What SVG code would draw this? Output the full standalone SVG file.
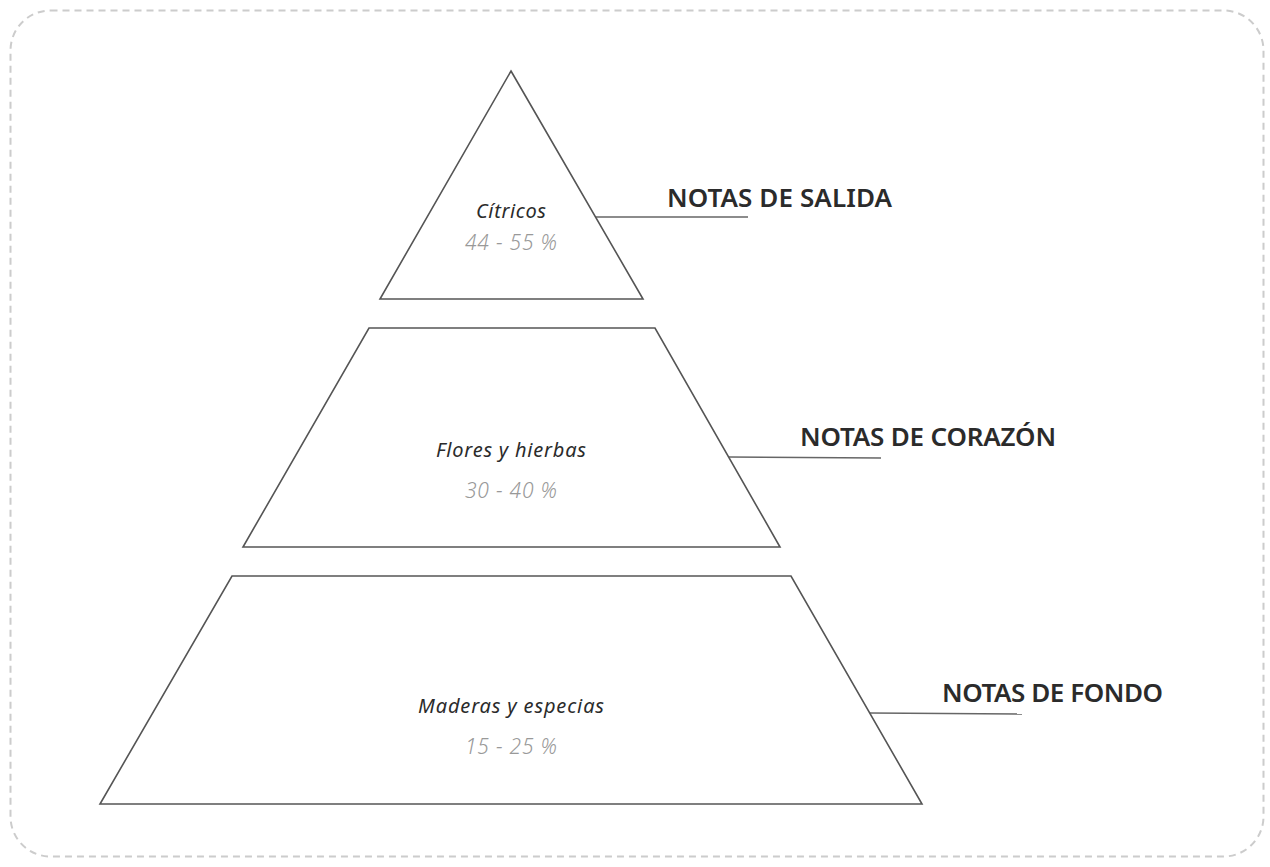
<svg xmlns="http://www.w3.org/2000/svg" width="1270" height="867" viewBox="0 0 1270 867">
<style>
.shape{fill:#fff;stroke:#555;stroke-width:1.6;stroke-linejoin:miter}
.conn{stroke:#666;stroke-width:1.6;fill:none}
.name{font-family:"Noto Sans","Open Sans",sans-serif;font-style:italic;font-size:20px;fill:#2b2b2b;text-anchor:middle}
.pct{font-family:"Noto Sans","Open Sans",sans-serif;font-style:italic;font-size:21px;fill:#999;text-anchor:middle;font-weight:300}
.title{font-family:"Noto Sans","Open Sans",sans-serif;font-weight:600;font-size:26px;fill:#2b2b2b}
</style>
<rect x="0" y="0" width="1270" height="867" fill="#fff"/>
<rect x="10.5" y="10.5" width="1253" height="846" rx="40" ry="40" fill="none" stroke="#cccccc" stroke-width="2" stroke-dasharray="7 5"/>
<g id="connectors">
<line class="conn" x1="596" y1="217" x2="748" y2="217"/>
<line class="conn" x1="729" y1="457" x2="881" y2="458"/>
<line class="conn" x1="870" y1="713" x2="1022" y2="714"/>
</g>
<g id="top">
<polygon class="shape" points="511,71 643,299 380,299"/>
<text class="name" x="511" y="218" textLength="70">Cítricos</text>
<text class="pct" x="511" y="250" textLength="92">44 - 55 %</text>
</g>
<g id="middle">
<polygon class="shape" points="369,328 655,328 780,547 243,547"/>
<text class="name" x="511" y="457" textLength="150">Flores y hierbas</text>
<text class="pct" x="511" y="498" textLength="92">30 - 40 %</text>
</g>
<g id="bottom">
<polygon class="shape" points="232,576 791,576 922,804 100,804"/>
<text class="name" x="511" y="713" textLength="186">Maderas y especias</text>
<text class="pct" x="511" y="754" textLength="92">15 - 25 %</text>
</g>
<g id="label-salida"><text class="title" x="667" y="207" textLength="225">NOTAS DE SALIDA</text></g>
<g id="label-corazon"><text class="title" x="800" y="446" textLength="256">NOTAS DE CORAZÓN</text></g>
<g id="label-fondo"><text class="title" x="942" y="702" textLength="221">NOTAS DE FONDO</text></g>
</svg>
